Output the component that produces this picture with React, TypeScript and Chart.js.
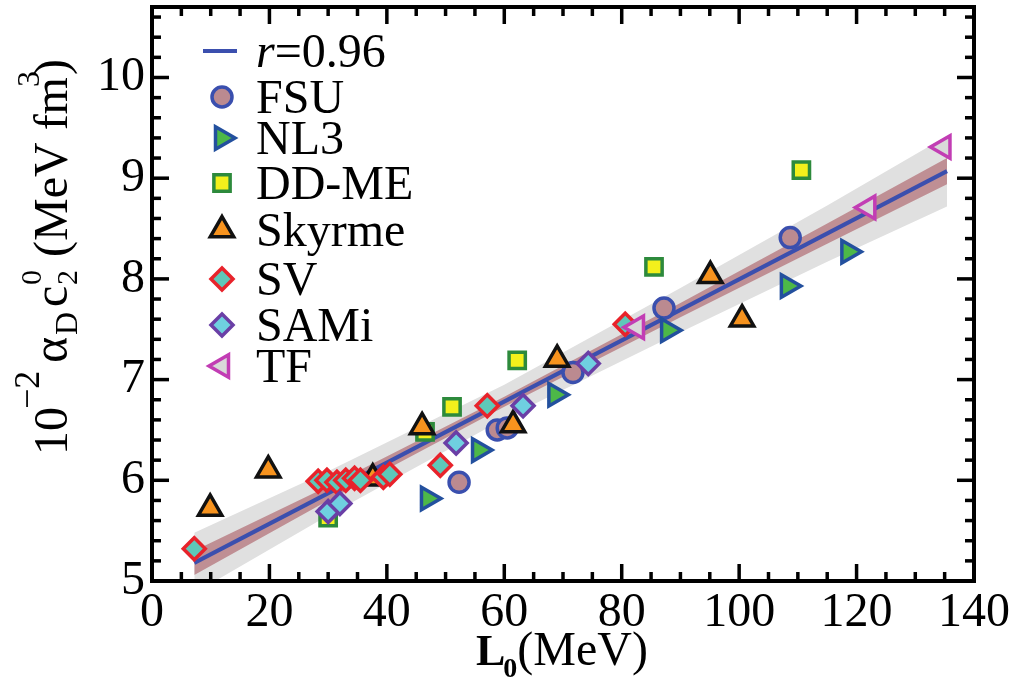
import React, { useEffect, useRef } from 'react';
import { Chart, registerables } from 'chart.js';

Chart.register(...registerables);

const FONT = "'Liberation Serif', 'Times New Roman', Times, serif";

// axis ticks
const xTickValues = [0, 20, 40, 60, 80, 100, 120, 140];
const yTickValues = [5, 6, 7, 8, 9, 10];
const xRange = [0, 140];
const yRange = [5, 10.7];
const xMinorStep = 5;
const yMinorStep = 0.2;

// series (L0 in MeV, 10^-2 alpha_D c2^0)
const fsu = [[52.3, 5.98], [58.8, 6.5], [60.5, 6.52], [71.7, 7.07], [87.2, 7.71], [108.7, 8.41]];
const nl3 = [[47.0, 5.82], [55.7, 6.3], [68.7, 6.85], [87.9, 7.49], [108.3, 7.93], [118.6, 8.27]];
const ddme = [[30.0, 5.63], [46.5, 6.48], [51.1, 6.73], [62.2, 7.19], [85.5, 8.12], [110.6, 9.08]];
const skyrme = [[9.9, 5.72], [19.8, 6.1], [37.6, 6.02], [46.0, 6.53], [61.5, 6.55], [69.0, 7.2], [95.1, 8.03], [100.5, 7.6]];
const sv = [[7.2, 5.32], [28.3, 5.99], [29.8, 6.0], [31.5, 5.98], [33.0, 6.0], [34.5, 6.02], [35.5, 6.0], [39.4, 6.03], [40.5, 6.06], [49.1, 6.15], [57.1, 6.74], [80.6, 7.55]];
const sami = [[30.0, 5.69], [32.0, 5.77], [51.8, 6.37], [63.2, 6.74], [74.3, 7.16]];
const tf = [[82.6, 7.52], [122.0, 8.71], [134.8, 9.31]];

// linear fit and bands
const fitX = [7.2, 135.4];
const fitY = [5.18, 9.07];
const bandX = [7.2, 30, 60, 90, 115, 135.4];
const brownUpper = [5.3, 5.94, 6.83, 7.76, 8.55, 9.2];
const brownLower = [5.06, 5.8, 6.73, 7.62, 8.35, 8.94];
const grayUpper = [5.48, 6.09, 6.95, 7.91, 8.73, 9.42];
const grayLower = [4.88, 5.65, 6.61, 7.47, 8.17, 8.72];

const legendLabels = ['FSU', 'NL3', 'DD-ME', 'Skyrme', 'SV', 'SAMi', 'TF'];

type Style = { name: string; data: number[][]; pointStyle: string; rotation: number; radius: number; fill: string; stroke: string };
const seriesStyles: Style[] = [
  { name: 'FSU', data: fsu, pointStyle: 'circle', rotation: 0, radius: 10, fill: '#bb8a90', stroke: '#3a4fae' },
  { name: 'NL3', data: nl3, pointStyle: 'triangle', rotation: 90, radius: 13, fill: '#4db848', stroke: '#23509e' },
  { name: 'DD-ME', data: ddme, pointStyle: 'rect', rotation: 0, radius: 11.5, fill: '#f3f01c', stroke: '#2d8a3c' },
  { name: 'Skyrme', data: skyrme, pointStyle: 'triangle', rotation: 0, radius: 13.5, fill: '#f7931e', stroke: '#111111' },
  { name: 'SV', data: sv, pointStyle: 'rectRot', rotation: 0, radius: 11, fill: '#5ec8b9', stroke: '#e8232b' },
  { name: 'SAMi', data: sami, pointStyle: 'rectRot', rotation: 0, radius: 11, fill: '#6fd0e0', stroke: '#6a3fa6' },
  { name: 'TF', data: tf, pointStyle: 'triangle', rotation: 270, radius: 13, fill: '#d9d9d9', stroke: '#c23db4' },
];

const LINE_COLOR = '#3b4fae';
const BROWN = '#bf8f94';
const GRAY = '#e0e0e0';

const toPts = (arr: number[][]) => arr.map(([x, y]) => ({ x, y }));
const zipPts = (xs: number[], ys: number[]) => xs.map((x, i) => ({ x, y: ys[i] }));

function drawMarker(ctx: CanvasRenderingContext2D, s: Style, x: number, y: number) {
  const r = s.radius;
  ctx.save();
  ctx.beginPath();
  if (s.pointStyle === 'circle') {
    ctx.arc(x, y, r, 0, Math.PI * 2);
  } else if (s.pointStyle === 'rect') {
    const h = r * Math.SQRT1_2;
    ctx.rect(x - h, y - h, 2 * h, 2 * h);
  } else if (s.pointStyle === 'rectRot') {
    ctx.moveTo(x, y - r);
    ctx.lineTo(x + r, y);
    ctx.lineTo(x, y + r);
    ctx.lineTo(x - r, y);
    ctx.closePath();
  } else {
    let a = (s.rotation * Math.PI) / 180;
    ctx.moveTo(x + Math.sin(a) * r, y - Math.cos(a) * r);
    a += (2 * Math.PI) / 3;
    ctx.lineTo(x + Math.sin(a) * r, y - Math.cos(a) * r);
    a += (2 * Math.PI) / 3;
    ctx.lineTo(x + Math.sin(a) * r, y - Math.cos(a) * r);
    ctx.closePath();
  }
  ctx.fillStyle = s.fill;
  ctx.fill();
  ctx.lineWidth = 3.5;
  ctx.strokeStyle = s.stroke;
  ctx.stroke();
  ctx.restore();
}

const framePlugin = {
  id: 'frameTicks',
  afterDatasetsDraw(chart: any) {
    const { ctx, chartArea: a, scales } = chart;
    const xs = scales.x;
    const ys = scales.y;
    ctx.save();
    ctx.strokeStyle = '#000';
    ctx.lineWidth = 3.5;
    ctx.lineCap = 'butt';
    const tick = (x1: number, y1: number, x2: number, y2: number) => {
      ctx.beginPath();
      ctx.moveTo(x1, y1);
      ctx.lineTo(x2, y2);
      ctx.stroke();
    };
    for (let v = xRange[0]; v <= xRange[1] + 1e-9; v += xMinorStep) {
      const major = xTickValues.some((t) => Math.abs(t - v) < 1e-6);
      const L = major ? 17 : 9;
      const px = xs.getPixelForValue(v);
      tick(px, a.bottom, px, a.bottom - L);
      tick(px, a.top, px, a.top + L);
    }
    for (let v = yRange[0]; v <= yRange[1] + 1e-9; v += yMinorStep) {
      const major = yTickValues.some((t) => Math.abs(t - v) < 1e-6);
      const L = major ? 17 : 9;
      const py = ys.getPixelForValue(v);
      tick(a.left, py, a.left + L, py);
      tick(a.right, py, a.right - L, py);
    }
    ctx.lineWidth = 4;
    ctx.lineJoin = 'miter';
    ctx.strokeRect(a.left, a.top, a.right - a.left, a.bottom - a.top);
    ctx.restore();
  },
};

const legendRows = [51, 97, 138, 183, 230, 279, 325, 366];
const legendPlugin = {
  id: 'customLegend',
  afterDraw(chart: any) {
    const ctx = chart.ctx as CanvasRenderingContext2D;
    ctx.save();
    ctx.fillStyle = '#000';
    ctx.textBaseline = 'alphabetic';
    ctx.textAlign = 'left';
    const mx = 222;
    const tx = 256;
    // fit line entry
    ctx.strokeStyle = LINE_COLOR;
    ctx.lineWidth = 4;
    ctx.beginPath();
    ctx.moveTo(203, legendRows[0]);
    ctx.lineTo(237, legendRows[0]);
    ctx.stroke();
    ctx.font = `italic 48px ${FONT}`;
    ctx.fillText('r', tx, legendRows[0] + 16);
    const rw = ctx.measureText('r').width;
    ctx.font = `48px ${FONT}`;
    ctx.fillText('=0.96', tx + rw, legendRows[0] + 16);
    legendLabels.forEach((lab, i) => {
      const y = legendRows[i + 1];
      drawMarker(ctx, seriesStyles[i], mx, y);
      ctx.fillStyle = '#000';
      ctx.font = `48px ${FONT}`;
      ctx.fillText(lab, tx, y + 16);
    });
    ctx.restore();
  },
};

// y-axis title pieces: text, font size, offset along the baseline, shift (negative = raised)
const yTitlePieces: [string, number, number, number][] = [
  ['10', 48, 0, 0],
  ['\u22122', 36, 46, -28],
  ['\u03b1', 50, 92, 0],
  ['D', 32, 120, 10],
  ['c', 48, 148, 0],
  ['0', 30, 170, -26],
  ['2', 30, 170, 10],
  ['(MeV fm', 48, 198, 0],
  ['3', 32, 368, -28],
  [')', 48, 380, 0],
];

const titlePlugin = {
  id: 'axisTitles',
  afterDraw(chart: any) {
    const ctx = chart.ctx as CanvasRenderingContext2D;
    ctx.save();
    ctx.fillStyle = '#000';
    ctx.textAlign = 'left';
    ctx.textBaseline = 'alphabetic';
    // y title
    ctx.save();
    ctx.translate(67, 455);
    ctx.rotate(-Math.PI / 2);
    yTitlePieces.forEach(([t, size, along, dy]) => {
      ctx.font = `${size}px ${FONT}`;
      ctx.fillText(t, along, dy);
    });
    ctx.restore();
    // x title
    ctx.font = `bold 44px ${FONT}`;
    ctx.fillText('L', 476, 665);
    const lw = ctx.measureText('L').width;
    ctx.font = `bold 28px ${FONT}`;
    ctx.fillText('0', 476 + lw - 2, 677);
    const zw = ctx.measureText('0').width;
    ctx.font = `48px ${FONT}`;
    ctx.fillText('(MeV)', 476 + lw - 2 + zw, 665);
    ctx.restore();
  },
};

export default function App() {
  const ref = useRef<HTMLCanvasElement>(null);
  useEffect(() => {
    if (!ref.current) return;
    const bandCommon = { showLine: true, pointRadius: 0, borderWidth: 0, order: 20 };
    const datasets: any[] = [
      { ...bandCommon, label: 'gu', data: zipPts(bandX, grayUpper), fill: '+1', backgroundColor: GRAY, borderColor: GRAY, order: 30 },
      { ...bandCommon, label: 'gl', data: zipPts(bandX, grayLower), fill: false, backgroundColor: GRAY, borderColor: GRAY, order: 30 },
      { ...bandCommon, label: 'bu', data: zipPts(bandX, brownUpper), fill: '+1', backgroundColor: BROWN, borderColor: BROWN, order: 25 },
      { ...bandCommon, label: 'bl', data: zipPts(bandX, brownLower), fill: false, backgroundColor: BROWN, borderColor: BROWN, order: 25 },
      { label: 'fit', data: zipPts(fitX, fitY), showLine: true, pointRadius: 0, borderWidth: 4, borderColor: LINE_COLOR, fill: false, order: 20 },
      ...seriesStyles.map((s, i) => ({
        label: s.name,
        data: toPts(s.data),
        showLine: false,
        pointStyle: s.pointStyle,
        pointRotation: s.rotation,
        pointRadius: s.radius,
        pointBackgroundColor: s.fill,
        pointBorderColor: s.stroke,
        pointBorderWidth: 3.5,
        order: 10 - i,
      })),
    ];
    const chart = new Chart(ref.current, {
      type: 'scatter',
      data: { datasets },
      options: {
        animation: false,
        responsive: false,
        devicePixelRatio: 1,
        events: [],
        layout: { autoPadding: false, padding: { left: 0, right: 42, top: 7, bottom: 0 } },
        plugins: { legend: { display: false }, tooltip: { enabled: false }, title: { display: false } },
        scales: {
          x: {
            type: 'linear',
            min: xRange[0],
            max: xRange[1],
            grid: { display: false, drawTicks: false },
            border: { display: false },
            afterBuildTicks: (s: any) => {
              s.ticks = xTickValues.map((v) => ({ value: v }));
            },
            afterFit: (s: any) => {
              s.height = 101;
              s.paddingLeft = 0;
              s.paddingRight = 0;
            },
            ticks: { color: '#000', font: { family: FONT, size: 48 }, padding: 4, maxRotation: 0, autoSkip: false },
          },
          y: {
            type: 'linear',
            min: yRange[0],
            max: yRange[1],
            grid: { display: false, drawTicks: false },
            border: { display: false },
            afterBuildTicks: (s: any) => {
              s.ticks = yTickValues.map((v) => ({ value: v }));
            },
            afterFit: (s: any) => {
              s.width = 152;
              s.paddingTop = 0;
              s.paddingBottom = 0;
            },
            ticks: { color: '#000', font: { family: FONT, size: 48 }, padding: 7, autoSkip: false },
          },
        },
      },
      plugins: [framePlugin, legendPlugin, titlePlugin],
    } as any);
    return () => chart.destroy();
  }, []);
  return (
    <div style={{ position: 'fixed', left: 0, top: 0, width: 1016, height: 682, background: '#fff' }}>
      <canvas ref={ref} width={1016} height={682} style={{ display: 'block', width: 1016, height: 682 }} />
    </div>
  );
}
